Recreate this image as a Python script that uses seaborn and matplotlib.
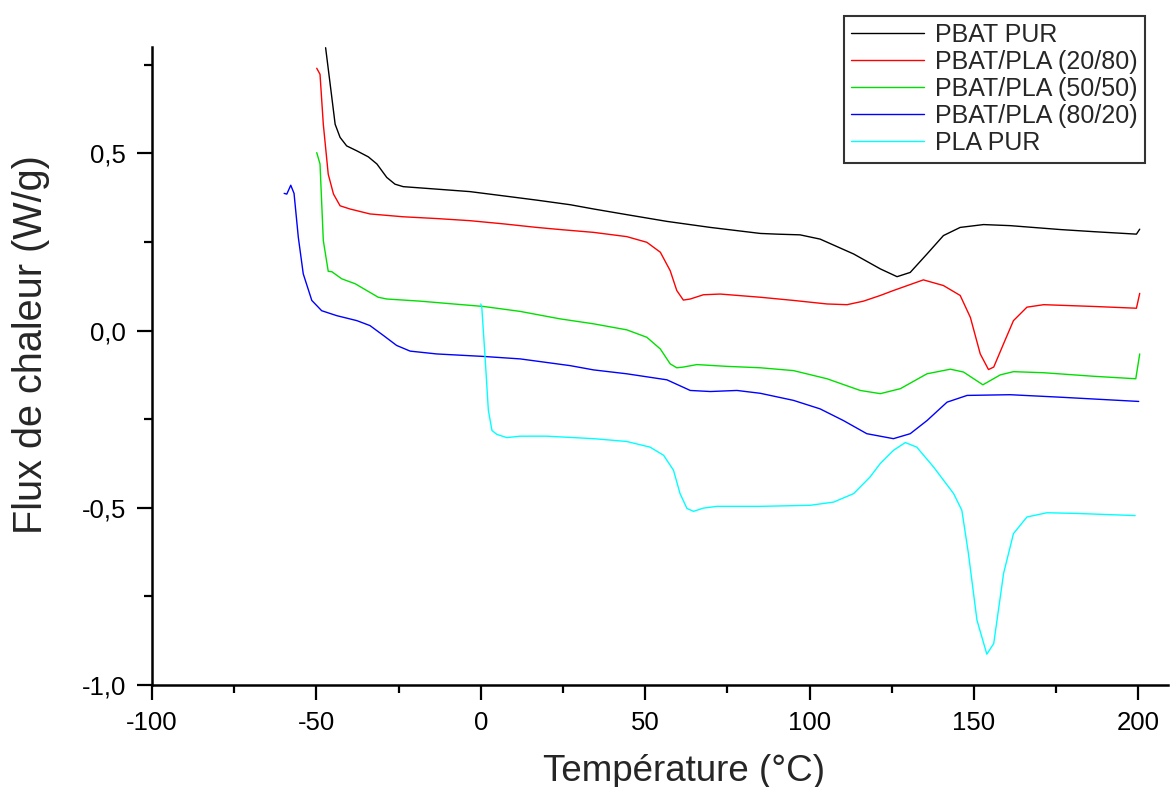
import matplotlib
matplotlib.use("Agg")
import matplotlib.pyplot as plt
import seaborn as sns
import pandas as pd
from matplotlib.ticker import MultipleLocator, FuncFormatter

# courbes DSC (Température en °C, flux en W/g)
pbat_x = [-47.2, -45.3, -44.3, -42.8, -40.8, -37.7, -34.2, -31.6, -28.6, -26.1, -23.6,
          -13.4, -3.3, 6.9, 17.0, 27.2, 34.3, 44.4, 56.6, 69.8, 85.0, 90.1, 97.1, 103.2,
          113.4, 121.5, 126.6, 130.6, 135.7, 140.7, 145.8, 152.9, 161.0, 176.2, 186.4, 199.4, 200.4]
pbat_y = [0.798, 0.657, 0.582, 0.545, 0.521, 0.507, 0.490, 0.470, 0.432, 0.413, 0.406,
          0.399, 0.392, 0.380, 0.368, 0.355, 0.343, 0.327, 0.308, 0.291, 0.274, 0.272, 0.270, 0.258,
          0.216, 0.174, 0.152, 0.164, 0.216, 0.268, 0.291, 0.299, 0.296, 0.285, 0.279, 0.272, 0.286]

p2080_x = [-49.9, -48.9, -47.9, -46.4, -44.8, -42.8, -39.8, -33.7, -23.6, -13.4, -3.3, 6.9,
           17.0, 24.1, 34.3, 44.4, 50.5, 54.6, 57.6, 59.6, 61.6, 63.7, 67.7, 72.8, 85.0, 95.1,
           105.3, 111.4, 116.4, 121.5, 125.5, 134.6, 140.7, 145.8, 148.9, 151.9, 154.4, 156.0,
           159.0, 162.0, 166.1, 171.2, 186.4, 199.4, 200.4]
p2080_y = [0.740, 0.723, 0.582, 0.441, 0.385, 0.352, 0.343, 0.329, 0.321, 0.316, 0.310, 0.301,
           0.291, 0.285, 0.277, 0.265, 0.249, 0.221, 0.169, 0.113, 0.086, 0.089, 0.101, 0.103, 0.094, 0.085,
           0.075, 0.073, 0.083, 0.099, 0.113, 0.143, 0.127, 0.099, 0.037, -0.066, -0.110, -0.103,
           -0.037, 0.028, 0.066, 0.073, 0.068, 0.063, 0.105]

p5050_x = [-49.9, -48.9, -47.9, -46.4, -45.3, -42.3, -38.2, -34.7, -31.2, -28.6, -18.5, -8.3,
           0.8, 12.0, 24.1, 34.3, 44.4, 50.5, 54.6, 57.6, 59.6, 61.6, 65.7, 74.8, 85.0, 95.1,
           105.3, 115.4, 121.5, 127.6, 135.7, 142.8, 146.8, 152.7, 158.0, 162.0, 171.2, 186.4,
           199.2, 200.4]
p5050_y = [0.502, 0.470, 0.254, 0.167, 0.166, 0.146, 0.132, 0.113, 0.094, 0.089, 0.083, 0.075,
           0.068, 0.054, 0.033, 0.019, 0.002, -0.019, -0.052, -0.094, -0.105, -0.103, -0.096, -0.101,
           -0.105, -0.113, -0.136, -0.169, -0.178, -0.164, -0.122, -0.109, -0.117, -0.153, -0.125,
           -0.116, -0.119, -0.129, -0.136, -0.066]

p8020_x = [-59.8, -59.0, -57.8, -56.8, -55.5, -54.0, -51.4, -48.4, -43.8, -37.7, -33.7, -29.6,
           -25.6, -21.5, -13.4, 0.8, 12.0, 27.2, 34.3, 44.4, 56.6, 63.7, 69.8, 77.9, 85.0, 95.1,
           103.2, 110.3, 117.4, 125.5, 130.6, 135.7, 141.8, 147.9, 161.0, 176.2, 200.1]
p8020_y = [0.387, 0.385, 0.410, 0.387, 0.263, 0.160, 0.085, 0.056, 0.042, 0.028, 0.014, -0.014,
           -0.042, -0.058, -0.066, -0.073, -0.080, -0.099, -0.111, -0.122, -0.139, -0.169, -0.172,
           -0.169, -0.177, -0.197, -0.221, -0.254, -0.291, -0.305, -0.291, -0.254, -0.202, -0.183,
           -0.181, -0.188, -0.200]

pla_x = [0.0, 0.3, 1.3, 2.3, 3.4, 4.9, 7.9, 12.0, 20.1, 30.2, 34.3, 44.4, 51.5, 55.6, 58.6,
         60.6, 62.7, 64.7, 67.7, 71.8, 85.0, 100.2, 107.3, 113.4, 118.4, 121.5, 125.5, 129.1,
         132.6, 137.7, 143.8, 146.3, 148.3, 150.9, 153.9, 156.0, 159.0, 162.0, 166.1, 172.2,
         181.3, 199.0]
pla_y = [0.075, 0.066, -0.075, -0.225, -0.282, -0.293, -0.302, -0.298, -0.298, -0.303, -0.305,
         -0.313, -0.329, -0.352, -0.394, -0.460, -0.502, -0.510, -0.501, -0.496, -0.496, -0.493,
         -0.484, -0.460, -0.413, -0.375, -0.338, -0.316, -0.329, -0.385, -0.460, -0.507, -0.629,
         -0.817, -0.913, -0.883, -0.685, -0.573, -0.526, -0.514, -0.516, -0.522]

noms = ["PBAT PUR", "PBAT/PLA (20/80)", "PBAT/PLA (50/50)", "PBAT/PLA (80/20)", "PLA PUR"]
couleurs = ["black", "#ff0000", "#00e000", "#0000ff", "#00ffff"]
series = [(pbat_x, pbat_y), (p2080_x, p2080_y), (p5050_x, p5050_y),
          (p8020_x, p8020_y), (pla_x, pla_y)]

sns.set_theme(style="ticks")
plt.rcParams["font.family"] = ["Liberation Sans", "DejaVu Sans"]

fig = plt.figure(figsize=(11.74, 7.87), dpi=100)
ax = fig.add_axes([152 / 1174, 102 / 787, (1168 - 152) / 1174, 638 / 787])

for nom, col, (xs, ys) in zip(noms, couleurs, series):
    df = pd.DataFrame({"T": xs, "flux": ys})
    sns.lineplot(data=df, x="T", y="flux", ax=ax, color=col, linewidth=1.0,
                 sort=False, estimator=None, label=nom, legend=False)

ax.set_xlim(-100, 209)
ax.set_ylim(-1.0, 0.80)
ax.xaxis.set_major_locator(MultipleLocator(50))
ax.xaxis.set_minor_locator(MultipleLocator(25))
ax.yaxis.set_major_locator(MultipleLocator(0.5))
ax.yaxis.set_minor_locator(MultipleLocator(0.25))
ax.xaxis.set_major_formatter(FuncFormatter(lambda v, p: f"{v:.0f}".replace("\u2212", "-")))
ax.yaxis.set_major_formatter(FuncFormatter(lambda v, p: f"{v:.1f}".replace(".", ",")))

for s in ["top", "right"]:
    ax.spines[s].set_visible(False)
for s in ["left", "bottom"]:
    ax.spines[s].set_linewidth(1.8)
    ax.spines[s].set_color("black")

ax.tick_params(which="major", direction="out", length=10.8, width=1.6, labelsize=18.5,
               colors="black", pad=8)
ax.tick_params(which="minor", direction="out", length=5.5, width=1.6, colors="black")

ax.set_xlabel("Température (°C)", fontsize=26.5)
ax.set_ylabel("Flux de chaleur (W/g)", fontsize=28.5)
ax.xaxis.set_label_coords(0.524, -0.108)
ax.yaxis.set_label_coords(-0.100, 0.533)

handles, labels = ax.get_legend_handles_labels()
leg = fig.legend(handles, labels, loc="upper right", bbox_to_anchor=(1145 / 1174, 1 - 15.7 / 787),
                 borderaxespad=0, fontsize=18, frameon=True, fancybox=False, handlelength=2.9,
                 handletextpad=0.45, labelspacing=0.12, borderpad=0.3)
leg.get_frame().set_edgecolor("black")
leg.get_frame().set_linewidth(1.5)

fig.savefig("out.png", dpi=100)
